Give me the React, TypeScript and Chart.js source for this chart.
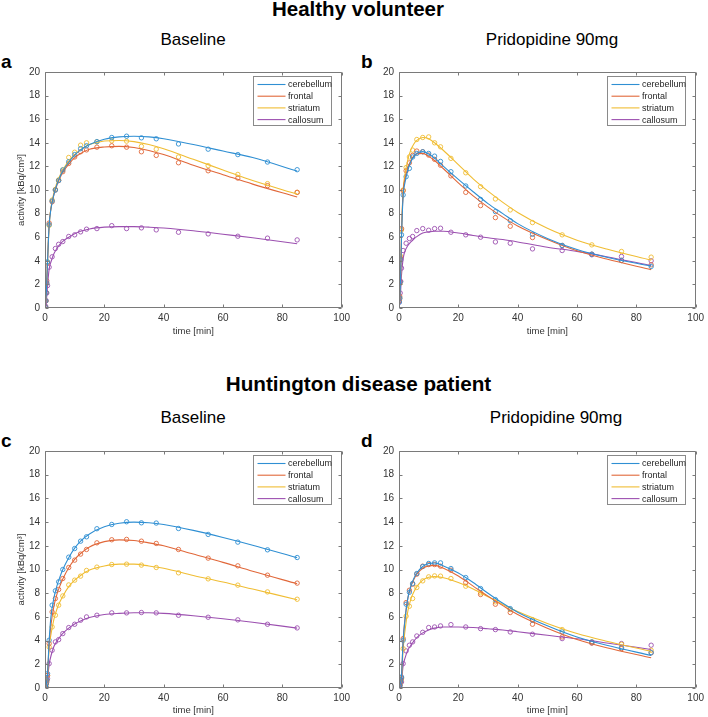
import React, { useEffect, useRef } from "react";
import { Chart, registerables } from "chart.js";

Chart.register(...registerables);

const FONT = '"Liberation Sans", Arial, Helvetica, sans-serif';

const REGIONS = ["cerebellum", "frontal", "striatum", "callosum"];
const COLORS = ["#2f8fd3", "#e1683a", "#f0bd33", "#9c50b0"];
const X_TICKS = [0, 20, 40, 60, 80, 100];
const Y_TICKS = [0, 2, 4, 6, 8, 10, 12, 14, 16, 18, 20];

// measured frame mid-times [min]
const DATA_TIMES = [0.1, 0.25, 0.4, 0.6, 0.85, 1.4, 2.4, 3.5, 4.6, 6, 8, 10, 12, 14, 17.5, 22.5, 27.5, 32.5, 37.5, 45, 55, 65, 75, 85];
// times at which fitted curves are sampled
const FIT_TIMES = [0, 0.25, 0.5, 0.85, 1.4, 2, 3, 4, 5, 6, 8, 10, 12, 15, 20, 25, 30, 35, 40, 50, 60, 70, 85];

// ---- a: healthy volunteer, baseline ----
const A_CEREBELLUM = [0.1, 0.6, 1.3, 2.1, 3.9, 7.07, 9.07, 10.0, 10.8, 11.7, 12.4, 13.0, 13.5, 13.75, 14.1, 14.45, 14.56, 14.42, 14.34, 13.9, 13.46, 13.0, 12.37, 11.72];
const A_FRONTAL = [0.1, 0.6, 1.3, 2.3, 3.8, 7.2, 9.0, 10.0, 10.8, 11.55, 12.25, 12.8, 13.24, 13.4, 13.63, 13.75, 13.63, 13.24, 12.93, 12.31, 11.63, 11.01, 10.37, 9.8];
const A_STRIATUM = [0.1, 0.6, 1.3, 2.1, 3.9, 7.0, 9.15, 10.05, 10.85, 11.7, 12.76, 13.2, 13.8, 14.0, 14.08, 14.17, 14.14, 13.7, 13.46, 12.8, 12.06, 11.32, 10.54, 9.8];
const A_CALLOSUM = [0.05, 0.14, 0.62, 1.27, 1.9, 3.46, 4.34, 5.04, 5.4, 5.63, 6.06, 6.2, 6.45, 6.68, 6.73, 6.98, 6.73, 6.79, 6.62, 6.42, 6.28, 6.08, 5.92, 5.77];
const A_CEREBELLUM_FIT = [0, 0.6, 1.6, 3.9, 7.0, 8.4, 9.6, 10.45, 11.1, 11.6, 12.35, 12.95, 13.4, 13.85, 14.3, 14.5, 14.55, 14.5, 14.35, 13.85, 13.3, 12.75, 11.6];
const A_FRONTAL_FIT = [0, 0.6, 1.6, 3.9, 7.1, 8.4, 9.6, 10.4, 11.0, 11.5, 12.2, 12.75, 13.1, 13.45, 13.65, 13.7, 13.6, 13.35, 13.0, 12.1, 11.3, 10.5, 9.4];
const A_STRIATUM_FIT = [0, 0.6, 1.6, 3.9, 7.0, 8.5, 9.75, 10.6, 11.2, 11.7, 12.45, 13.0, 13.4, 13.85, 14.15, 14.2, 14.1, 13.85, 13.5, 12.6, 11.7, 10.8, 9.65];
const A_CALLOSUM_FIT = [0, 0.15, 0.7, 1.9, 3.3, 3.9, 4.6, 5.05, 5.4, 5.65, 6.0, 6.3, 6.5, 6.7, 6.85, 6.9, 6.9, 6.85, 6.78, 6.55, 6.25, 5.95, 5.45];

// ---- b: healthy volunteer, pridopidine ----
const B_CEREBELLUM = [0.5, 0.85, 2.2, 4.08, 6.2, 9.58, 11.13, 11.83, 12.8, 13.1, 13.24, 13.1, 12.87, 12.42, 11.55, 10.34, 9.2, 8.17, 7.4, 6.25, 5.3, 4.56, 4.03, 3.52];
const B_FRONTAL = [0.6, 0.99, 2.25, 4.2, 6.73, 9.94, 11.63, 12.3, 12.93, 13.3, 13.24, 12.96, 12.6, 12.1, 11.2, 9.8, 8.68, 7.66, 6.93, 5.97, 5.3, 4.56, 4.03, 3.66];
const B_STRIATUM = [0.6, 0.85, 2.1, 4.37, 6.62, 10.0, 11.9, 12.8, 13.38, 14.28, 14.45, 14.5, 14.0, 13.66, 12.68, 11.46, 10.28, 9.24, 8.31, 7.24, 6.2, 5.35, 4.79, 4.31];
const B_CALLOSUM = [0.5, 0.79, 1.27, 2.25, 3.38, 4.87, 5.49, 5.89, 6.06, 6.56, 6.73, 6.59, 6.73, 6.76, 6.42, 6.2, 6.0, 5.6, 5.49, 5.01, 4.87, 4.51, 4.37, 4.0];
const B_CEREBELLUM_FIT = [0, 0.85, 2.2, 6.0, 9.5, 10.6, 11.7, 12.4, 12.85, 13.1, 13.25, 13.05, 12.7, 12.0, 10.9, 9.85, 8.85, 8.0, 7.15, 5.9, 4.95, 4.3, 3.55];
const B_FRONTAL_FIT = [0, 0.9, 2.2, 6.2, 9.8, 10.9, 11.9, 12.5, 12.9, 13.05, 13.1, 12.85, 12.5, 11.8, 10.6, 9.5, 8.55, 7.7, 6.95, 5.8, 4.85, 4.15, 3.25];
const B_STRIATUM_FIT = [0, 0.85, 2.1, 6.4, 10.0, 11.3, 12.6, 13.4, 13.9, 14.2, 14.45, 14.35, 14.0, 13.35, 12.15, 10.95, 9.9, 8.95, 8.1, 6.75, 5.75, 5.0, 4.05];
const B_CALLOSUM_FIT = [0, 0.5, 1.2, 2.8, 4.2, 4.8, 5.3, 5.6, 5.85, 6.05, 6.35, 6.45, 6.5, 6.5, 6.35, 6.15, 5.95, 5.8, 5.6, 5.15, 4.8, 4.35, 3.6];

// ---- c: Huntington patient, baseline ----
const C_CEREBELLUM = [0.1, 0.1, 0.37, 0.7, 1.21, 4.03, 6.99, 8.2, 8.96, 10.0, 11.04, 11.77, 12.39, 12.76, 13.44, 13.8, 14.03, 13.94, 13.92, 13.46, 12.96, 12.31, 11.66, 11.01];
const C_FRONTAL = [0.1, 0.1, 0.35, 0.65, 1.07, 3.75, 6.42, 7.55, 8.31, 9.24, 10.17, 10.79, 11.3, 11.69, 12.25, 12.51, 12.54, 12.39, 12.2, 11.69, 10.96, 10.31, 9.52, 8.85];
const C_STRIATUM = [0.1, 0.1, 0.3, 0.6, 1.07, 3.46, 5.15, 6.14, 6.99, 7.77, 8.7, 9.1, 9.44, 9.92, 10.2, 10.42, 10.45, 10.37, 10.17, 9.72, 9.21, 8.68, 8.11, 7.49];
const C_CALLOSUM = [0.05, 0.1, 0.37, 0.5, 0.79, 2.06, 3.18, 3.89, 4.08, 4.59, 5.1, 5.38, 5.72, 6.0, 6.14, 6.34, 6.34, 6.37, 6.34, 6.14, 5.97, 5.75, 5.38, 5.07];
const C_CEREBELLUM_FIT = [0, 0.15, 0.4, 1.2, 4.0, 6.0, 7.6, 8.6, 9.35, 10.0, 11.0, 11.8, 12.4, 13.0, 13.6, 13.9, 14.0, 13.95, 13.8, 13.3, 12.7, 12.05, 11.0];
const C_FRONTAL_FIT = [0, 0.15, 0.4, 1.1, 3.75, 5.3, 6.9, 7.9, 8.6, 9.2, 10.15, 10.85, 11.35, 11.9, 12.35, 12.5, 12.45, 12.25, 12.0, 11.3, 10.6, 9.85, 8.8];
const C_STRIATUM_FIT = [0, 0.15, 0.35, 1.05, 3.4, 4.5, 5.8, 6.65, 7.25, 7.75, 8.55, 9.1, 9.5, 9.95, 10.3, 10.45, 10.45, 10.3, 10.1, 9.5, 8.95, 8.35, 7.45];
const C_CALLOSUM_FIT = [0, 0.08, 0.3, 0.8, 2.0, 2.7, 3.5, 3.95, 4.3, 4.6, 5.05, 5.4, 5.65, 5.95, 6.2, 6.3, 6.35, 6.35, 6.3, 6.1, 5.85, 5.55, 5.05];

// ---- d: Huntington patient, pridopidine ----
const D_CEREBELLUM = [0.1, 0.2, 0.5, 0.7, 0.93, 4.03, 7.07, 8.08, 8.82, 9.66, 10.25, 10.51, 10.56, 10.56, 10.08, 9.32, 8.39, 7.46, 6.7, 5.72, 4.73, 3.89, 3.41, 2.99];
const D_FRONTAL = [0.1, 0.2, 0.5, 0.7, 0.87, 4.17, 7.21, 8.25, 8.76, 9.61, 10.28, 10.42, 10.42, 10.28, 9.94, 8.9, 7.89, 7.07, 6.37, 5.38, 4.31, 3.8, 3.32, 2.96];
const D_STRIATUM = [0.1, 0.2, 0.4, 0.6, 0.79, 3.32, 6.06, 6.9, 7.55, 8.48, 9.04, 9.38, 9.46, 9.44, 9.24, 8.59, 8.03, 7.27, 6.62, 5.77, 4.93, 3.9, 3.69, 3.18];
const D_CALLOSUM = [0.05, 0.1, 0.3, 0.5, 0.51, 2.06, 3.13, 3.61, 3.89, 4.39, 4.7, 5.1, 5.15, 5.24, 5.35, 5.15, 5.01, 4.93, 4.73, 4.54, 4.17, 3.8, 3.75, 3.61];
const D_CEREBELLUM_FIT = [0, 0.2, 0.45, 1.0, 4.0, 5.7, 7.6, 8.6, 9.25, 9.7, 10.25, 10.5, 10.55, 10.3, 9.7, 8.9, 8.0, 7.15, 6.4, 5.25, 4.3, 3.6, 2.75];
const D_FRONTAL_FIT = [0, 0.2, 0.45, 1.0, 4.1, 5.8, 7.6, 8.55, 9.15, 9.6, 10.1, 10.3, 10.35, 10.1, 9.45, 8.6, 7.75, 6.95, 6.2, 5.05, 4.1, 3.4, 2.55];
const D_STRIATUM_FIT = [0, 0.2, 0.4, 0.8, 3.3, 4.8, 6.5, 7.5, 8.1, 8.55, 9.1, 9.35, 9.4, 9.3, 8.9, 8.35, 7.7, 7.05, 6.45, 5.45, 4.6, 3.95, 3.1];
const D_CALLOSUM_FIT = [0, 0.1, 0.3, 0.6, 1.9, 2.5, 3.2, 3.6, 3.95, 4.25, 4.65, 4.9, 5.05, 5.15, 5.15, 5.1, 5.0, 4.9, 4.75, 4.45, 4.15, 3.8, 3.25];

type PanelCfg = {
  left: number; top: number; w: number; h: number;
  padTop: number; padRight: number; xAxisH: number; xTitlePad: number;
  yTitle: boolean;
  points: number[][]; fits: number[][];
};

const PANELS: PanelCfg[] = [
  { left: 0, top: 60, w: 354, h: 290, padTop: 12, padRight: 9, xAxisH: 42, xTitlePad: 13, yTitle: true,
    points: [A_CEREBELLUM, A_FRONTAL, A_STRIATUM, A_CALLOSUM],
    fits: [A_CEREBELLUM_FIT, A_FRONTAL_FIT, A_STRIATUM_FIT, A_CALLOSUM_FIT] },
  { left: 354, top: 60, w: 354, h: 290, padTop: 12, padRight: 10, xAxisH: 42, xTitlePad: 13, yTitle: false,
    points: [B_CEREBELLUM, B_FRONTAL, B_STRIATUM, B_CALLOSUM],
    fits: [B_CEREBELLUM_FIT, B_FRONTAL_FIT, B_STRIATUM_FIT, B_CALLOSUM_FIT] },
  { left: 0, top: 439, w: 354, h: 278, padTop: 12, padRight: 9, xAxisH: 29, xTitlePad: 1, yTitle: true,
    points: [C_CEREBELLUM, C_FRONTAL, C_STRIATUM, C_CALLOSUM],
    fits: [C_CEREBELLUM_FIT, C_FRONTAL_FIT, C_STRIATUM_FIT, C_CALLOSUM_FIT] },
  { left: 354, top: 439, w: 354, h: 278, padTop: 12, padRight: 10, xAxisH: 29, xTitlePad: 1, yTitle: false,
    points: [D_CEREBELLUM, D_FRONTAL, D_STRIATUM, D_CALLOSUM],
    fits: [D_CEREBELLUM_FIT, D_FRONTAL_FIT, D_STRIATUM_FIT, D_CALLOSUM_FIT] },
];

const boxPlugin = {
  id: "matlabBox",
  afterDraw(chart: any) {
    const { ctx, chartArea: a, scales } = chart;
    const xs = scales.x, ys = scales.y;
    const L = Math.round(a.left) + 0.5, R = Math.round(a.right) - 0.5;
    const T = Math.round(a.top) + 0.5, B = Math.round(a.bottom) - 0.5;
    ctx.save();
    ctx.strokeStyle = "#7a7a7a";
    ctx.lineWidth = 1;
    ctx.beginPath();
    ctx.rect(L, T, R - L, B - T);
    const tl = 3;
    X_TICKS.forEach((v) => {
      const px = Math.round(xs.getPixelForValue(v)) + 0.5;
      ctx.moveTo(px, B); ctx.lineTo(px, B - tl);
      ctx.moveTo(px, T); ctx.lineTo(px, T + tl);
    });
    Y_TICKS.forEach((v) => {
      const py = Math.round(ys.getPixelForValue(v)) + 0.5;
      ctx.moveTo(L, py); ctx.lineTo(L + tl, py);
      ctx.moveTo(R, py); ctx.lineTo(R - tl, py);
    });
    ctx.stroke();

    // legend
    const bw = 78, bh = 49;
    const bx = Math.round(a.right - 11 - bw) + 0.5;
    const by = Math.round(a.top + 4) + 0.5;
    ctx.fillStyle = "#ffffff";
    ctx.fillRect(bx, by, bw, bh);
    ctx.strokeStyle = "#8a8a8a";
    ctx.strokeRect(bx, by, bw, bh);
    ctx.font = `9px ${FONT}`;
    ctx.textBaseline = "middle";
    ctx.textAlign = "left";
    REGIONS.forEach((name, i) => {
      const ry = by + 8 + i * 11.7;
      ctx.strokeStyle = COLORS[i];
      ctx.lineWidth = 1.1;
      ctx.beginPath();
      ctx.moveTo(bx + 4, ry);
      ctx.lineTo(bx + 32, ry);
      ctx.stroke();
      ctx.fillStyle = "#262626";
      ctx.fillText(name, bx + 34.5, ry + 0.5);
    });
    ctx.restore();
  },
};

function Panel({ cfg }: { cfg: PanelCfg }) {
  const ref = useRef<HTMLCanvasElement>(null);
  useEffect(() => {
    if (!ref.current) return;
    const datasets: any[] = [];
    cfg.fits.forEach((arr, i) => {
      datasets.push({
        label: REGIONS[i] + " fit",
        data: FIT_TIMES.map((t, j) => ({ x: t, y: arr[j] })),
        borderColor: COLORS[i],
        borderWidth: 1.1,
        pointRadius: 0,
        cubicInterpolationMode: "monotone",
        fill: false,
      });
    });
    cfg.points.forEach((arr, i) => {
      datasets.push({
        label: REGIONS[i],
        data: DATA_TIMES.map((t, j) => ({ x: t, y: arr[j] })),
        showLine: false,
        pointStyle: "circle",
        pointRadius: 2.2,
        pointBorderWidth: 0.9,
        pointBorderColor: COLORS[i],
        pointBackgroundColor: "rgba(0,0,0,0)",
      });
    });
    const tickFont = { family: FONT, size: 10 };
    const chart = new Chart(ref.current, {
      type: "line",
      data: { datasets },
      options: {
        animation: false,
        responsive: false,
        devicePixelRatio: 1,
        layout: { padding: { top: cfg.padTop, right: cfg.padRight, left: 0, bottom: 0 } },
        plugins: { legend: { display: false }, tooltip: { enabled: false } },
        scales: {
          x: {
            type: "linear",
            min: 0,
            max: 100,
            afterBuildTicks: (s: any) => { s.ticks = X_TICKS.map((v) => ({ value: v })); },
            afterFit: (s: any) => { s.height = cfg.xAxisH; },
            grid: { display: false, drawTicks: false },
            border: { display: false },
            ticks: { autoSkip: false, maxRotation: 0, padding: 4, font: tickFont, color: "#333" },
            title: { display: true, text: "time [min]", color: "#333", font: { family: FONT, size: 9.5 }, padding: { top: 0, bottom: cfg.xTitlePad } },
          },
          y: {
            type: "linear",
            min: 0,
            max: 20,
            afterBuildTicks: (s: any) => { s.ticks = Y_TICKS.map((v) => ({ value: v })); },
            afterFit: (s: any) => { s.width = 45; },
            grid: { display: false, drawTicks: false },
            border: { display: false },
            ticks: { autoSkip: false, padding: 5, font: tickFont, color: "#333" },
            title: { display: cfg.yTitle, text: "activity [kBq/cm³]", color: "#333", font: { family: FONT, size: 9.5 }, padding: { top: 16, bottom: 0 } },
          },
        },
      } as any,
      plugins: [boxPlugin],
    });
    return () => chart.destroy();
  }, [cfg]);
  return (
    <canvas
      ref={ref}
      width={cfg.w}
      height={cfg.h}
      style={{ position: "absolute", left: cfg.left, top: cfg.top, width: cfg.w, height: cfg.h }}
    />
  );
}

function Label({ text, x, base, size, bold, center = true }: { text: string; x: number; base: number; size: number; bold?: boolean; center?: boolean }) {
  return (
    <div
      style={{
        position: "absolute",
        left: x,
        top: base - 0.8465 * size,
        transform: center ? "translateX(-50%)" : undefined,
        whiteSpace: "nowrap",
        fontFamily: FONT,
        fontSize: size,
        fontWeight: bold ? 700 : 400,
        lineHeight: 1,
        color: "#000",
      }}
    >
      {text}
    </div>
  );
}

export default function App() {
  return (
    <div style={{ position: "absolute", left: 0, top: 0, width: 708, height: 717, background: "#fff", overflow: "hidden" }}>
      <Label text="Healthy volunteer" x={358} base={16} size={20.5} bold />
      <Label text="Baseline" x={193} base={45.7} size={17} />
      <Label text="Pridopidine 90mg" x={552} base={45.7} size={17} />
      <Label text="a" x={1} base={68.5} size={19} bold center={false} />
      <Label text="b" x={361} base={68.5} size={19} bold center={false} />
      <Label text="Huntington disease patient" x={358.5} base={391.7} size={20.7} bold />
      <Label text="Baseline" x={193} base={423.3} size={17} />
      <Label text="Pridopidine 90mg" x={556} base={423.3} size={17} />
      <Label text="c" x={1} base={446.7} size={19} bold center={false} />
      <Label text="d" x={361} base={446.7} size={19} bold center={false} />
      {PANELS.map((p, i) => (
        <Panel key={i} cfg={p} />
      ))}
    </div>
  );
}
